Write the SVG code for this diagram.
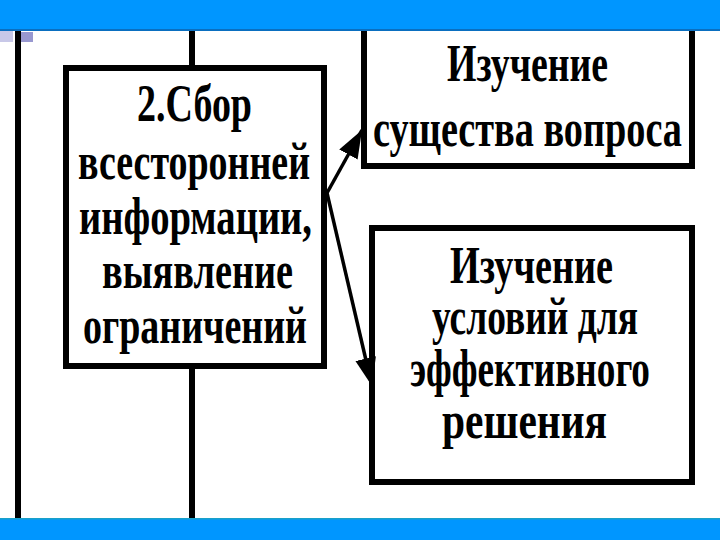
<svg xmlns="http://www.w3.org/2000/svg" width="720" height="540" viewBox="0 0 720 540">
<style>
.box{fill:#fff;stroke:#000;stroke-width:6}
.vline{stroke:#000;stroke-width:6}
.conn{stroke:#000;stroke-width:3.5;fill:none}
.t{font-family:"Liberation Serif","Times New Roman",serif;font-weight:bold;font-size:53px;fill:#000}
</style>
<defs>
<marker id="ah" markerUnits="userSpaceOnUse" markerWidth="32" markerHeight="24" refX="28" refY="10.5" orient="auto">
<path d="M0,0 L28,10.5 L0,21 Z" fill="#000"/>
</marker>
</defs>
<rect x="0" y="0" width="720" height="540" fill="#fff"/>
<g id="frame">
<line class="vline" x1="18" y1="31" x2="18" y2="519"/>
<line class="vline" x1="192" y1="31" x2="192" y2="68"/>
<line class="vline" x1="192" y1="366" x2="192" y2="519"/>
<rect x="0" y="31" width="13" height="11" fill="#c8c8e8"/>
<rect x="21" y="32" width="12" height="10" fill="#9898d0"/>
</g>
<g id="node-top">
<rect class="box" x="364" y="10" width="328" height="156" stroke-width="5"/>
<text class="t" x="447" y="81" textLength="161" lengthAdjust="spacingAndGlyphs">Изучение</text>
<text class="t" x="373" y="146" textLength="309" lengthAdjust="spacingAndGlyphs">существа вопроса</text>
</g>
<g id="node-left">
<rect class="box" x="66" y="68" width="258" height="298"/>
<text class="t" x="137" y="121" textLength="115" lengthAdjust="spacingAndGlyphs">2.Сбор</text>
<text class="t" x="78" y="179" textLength="232" lengthAdjust="spacingAndGlyphs">всесторонней</text>
<text class="t" x="79" y="234" textLength="233" lengthAdjust="spacingAndGlyphs">информации,</text>
<text class="t" x="102" y="288" textLength="191" lengthAdjust="spacingAndGlyphs">выявление</text>
<text class="t" x="83" y="343" textLength="224" lengthAdjust="spacingAndGlyphs">ограничений</text>
</g>
<g id="node-bottom">
<rect class="box" x="372" y="228" width="320" height="254" stroke-width="5"/>
<text class="t" x="450" y="283" textLength="163" lengthAdjust="spacingAndGlyphs">Изучение</text>
<text class="t" x="432" y="334" textLength="206" lengthAdjust="spacingAndGlyphs">условий для</text>
<text class="t" x="410" y="386" textLength="240" lengthAdjust="spacingAndGlyphs">эффективного</text>
<text class="t" x="442" y="438" textLength="165" lengthAdjust="spacingAndGlyphs">решения</text>
</g>
<g id="connectors">
<line class="conn" x1="327" y1="193" x2="362" y2="130" marker-end="url(#ah)"/>
<line class="conn" x1="327" y1="193" x2="372" y2="386" marker-end="url(#ah)"/>
</g>
<g id="bars">
<rect x="0" y="0" width="720" height="31" fill="#0096ff"/>
<rect x="0" y="29" width="720" height="2" fill="#0a6fc0"/>
<rect x="0" y="519" width="720" height="21" fill="#0096ff"/>
<rect x="0" y="518" width="720" height="1.5" fill="#1aa0c8"/>
</g>
</svg>
